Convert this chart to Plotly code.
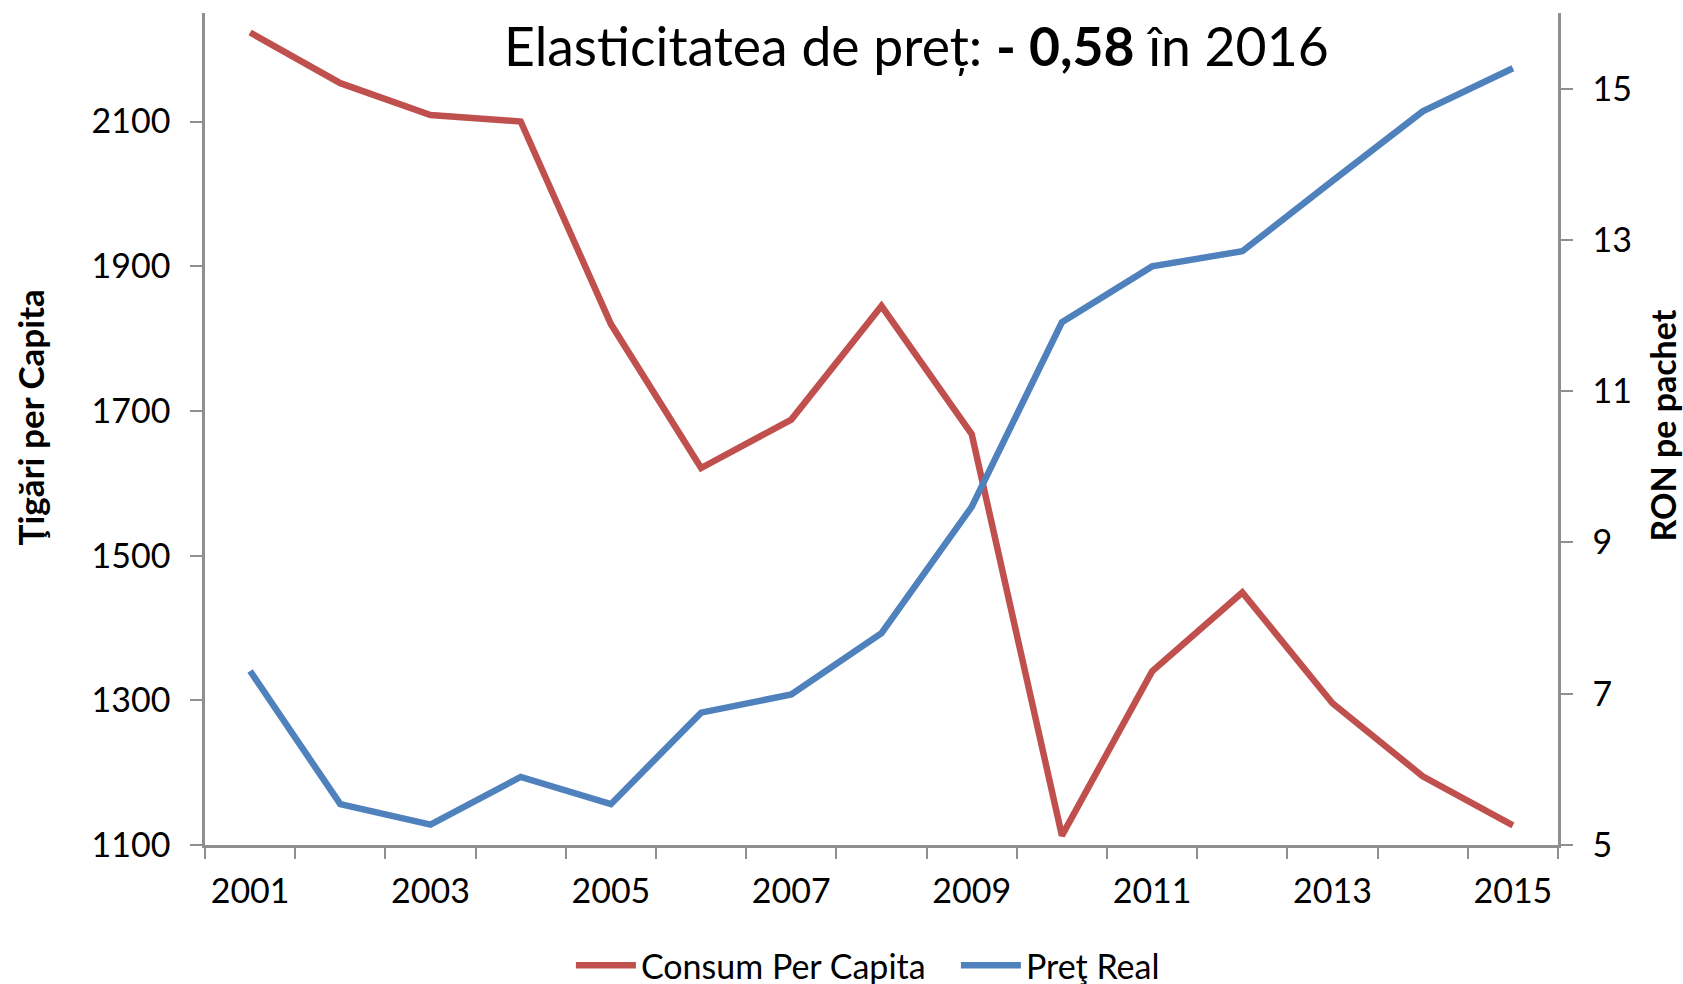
import plotly.graph_objects as go

years = [2001, 2002, 2003, 2004, 2005, 2006, 2007, 2008, 2009, 2010, 2011, 2012, 2013, 2014, 2015]
consum = [2223, 2153, 2109, 2100, 1820, 1621, 1688, 1845, 1668, 1113, 1340, 1449, 1296, 1195, 1127]
pret = [7.30, 5.54, 5.27, 5.90, 5.54, 6.75, 6.99, 7.80, 9.47, 11.91, 12.65, 12.85, 13.78, 14.70, 15.27]

x_labels = [2001, 2003, 2005, 2007, 2009, 2011, 2013, 2015]
left_ticks = [1100, 1300, 1500, 1700, 1900, 2100]
right_ticks = [5, 7, 9, 11, 13, 15]

title_text = "Elasticitatea de preț: <b>- 0,58</b> în 2016"
name_consum = "Consum Per Capita"
name_pret = "Preţ Real"
ytitle_left = "Ţigări per Capita"
ytitle_right = "RON pe pachet"

FONT = "Lato"
AXIS_GRAY = "#8f8f8f"
TICK_SIZE = 34

fig = go.Figure()
fig.add_trace(go.Scatter(x=years, y=consum, mode="lines", name=name_consum,
                         line=dict(color="#C0504D", width=6.5)))
fig.add_trace(go.Scatter(x=years, y=pret, mode="lines", name=name_pret, yaxis="y2",
                         line=dict(color="#4F81BD", width=6.5)))

fig.update_layout(
    width=1683, height=984,
    margin=dict(l=205, r=125, t=13, b=139, autoexpand=False),
    paper_bgcolor="white", plot_bgcolor="white",
    font=dict(family=FONT, color="black", size=TICK_SIZE),
    showlegend=True,
    legend=dict(orientation="h", x=0.555, xanchor="center", y=-0.145, yanchor="middle",
                font=dict(size=34, family=FONT), itemwidth=60, entrywidth=310),
    xaxis=dict(
        range=[2000.5, 2015.5], tickmode="array", tickvals=x_labels,
        ticks="", showline=True, linecolor=AXIS_GRAY, linewidth=2.5,
        showgrid=False, zeroline=False, automargin=False,
        tickfont=dict(size=TICK_SIZE, family=FONT),
        minor=dict(tick0=2000.5, dtick=1, ticks="outside", ticklen=11,
                   tickcolor=AXIS_GRAY, tickwidth=2, showgrid=False),
        ticklabelstandoff=14,
    ),
    yaxis=dict(
        range=[1100, 2250], tickmode="array", tickvals=left_ticks,
        ticks="outside", ticklen=12, tickcolor=AXIS_GRAY, tickwidth=2,
        showline=True, linecolor=AXIS_GRAY, linewidth=2.5,
        showgrid=False, zeroline=False, automargin=False,
        tickfont=dict(size=TICK_SIZE, family=FONT),
        ticklabelstandoff=13,
    ),
    yaxis2=dict(
        range=[5, 16], tickmode="array", tickvals=right_ticks,
        overlaying="y", side="right", anchor="x",
        ticks="outside", ticklen=12, tickcolor=AXIS_GRAY, tickwidth=2,
        showline=True, linecolor=AXIS_GRAY, linewidth=2.5,
        showgrid=False, zeroline=False, automargin=False,
        tickfont=dict(size=TICK_SIZE, family=FONT),
        ticklabelstandoff=13,
    ),
    annotations=[
        dict(text=title_text, xref="paper", yref="paper", x=0.526, y=0.9615,
             xanchor="center", yanchor="middle", showarrow=False,
             font=dict(size=53.5, family=FONT, color="black")),
        dict(text="<b>" + ytitle_left + "</b>", xref="paper", yref="paper",
             x=-0.1293, y=0.514, xanchor="center", yanchor="middle", textangle=-90,
             showarrow=False, font=dict(size=35, family=FONT, color="black")),
        dict(text="<b>" + ytitle_right + "</b>", xref="paper", yref="paper",
             x=1.0775, y=0.504, xanchor="center", yanchor="middle", textangle=-90,
             showarrow=False, font=dict(size=34, family=FONT, color="black")),
    ],
)

fig.write_html("out.html", config={"displayModeBar": False},
               post_script="document.body.style.margin='0';document.body.style.overflow='hidden';")
